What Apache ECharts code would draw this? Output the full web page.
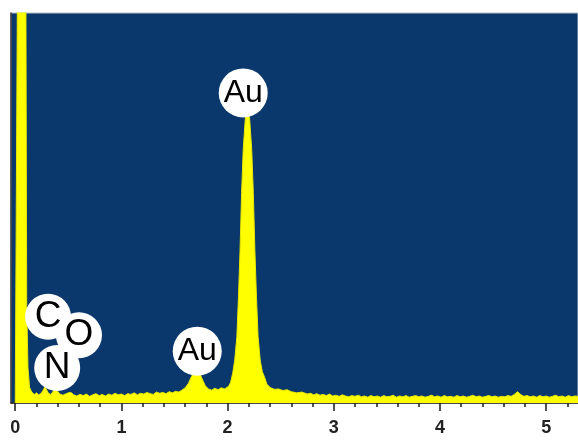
<!DOCTYPE html>
<html>
<head>
<meta charset="utf-8">
<script src="https://cdn.jsdelivr.net/npm/echarts@6/dist/echarts.min.js"></script>
<style>
  html, body { margin: 0; padding: 0; background: #ffffff; }
  #chart { width: 578px; height: 441px; }
</style>
</head>
<body>
<div id="chart"></div>
<script>
// ---- Data (energy keV, relative counts, % of full scale) ----
const zeroPeak = [
  [0.00, 0], [0.015, 0], [0.025, 130], [0.035, 400], [0.066, 600], [0.09, 400],
  [0.098, 130], [0.108, 25], [0.12, 9], [0.135, 4]
];
const lowEnergy = [
  [0.155, 2.8], [0.18, 2.2], [0.20, 2.6], [0.22, 2.1], [0.245, 2.5], [0.265, 3.4],
  [0.28, 4.2], [0.295, 3.8], [0.31, 2.6], [0.33, 2.2], [0.35, 2.7], [0.37, 3.6],
  [0.385, 3.9], [0.40, 3.0], [0.42, 2.3], [0.45, 2.0], [0.48, 2.4], [0.51, 2.7],
  [0.53, 2.6], [0.55, 2.1], [0.58, 1.8], [0.61, 2.2], [0.64, 1.9], [0.67, 2.3],
  [0.70, 1.7], [0.73, 2.1], [0.76, 2.4], [0.79, 1.9], [0.82, 2.2], [0.85, 1.8],
  [0.88, 2.3], [0.91, 2.0], [0.94, 2.5], [0.97, 2.1], [1.00, 2.3], [1.03, 1.9],
  [1.06, 2.4], [1.09, 2.2], [1.12, 2.6], [1.15, 2.1], [1.18, 2.5], [1.21, 2.3],
  [1.24, 2.7], [1.27, 2.4], [1.30, 2.2], [1.33, 2.8], [1.36, 2.5], [1.39, 2.7],
  [1.42, 2.4], [1.45, 2.9], [1.48, 2.6], [1.51, 3.0], [1.54, 2.8], [1.57, 3.3]
];
const auPeaks = [
  [1.60, 3.9], [1.63, 5.0], [1.66, 6.8], [1.69, 8.2], [1.71, 8.6], [1.73, 8.0],
  [1.76, 6.2], [1.79, 4.4], [1.82, 3.6], [1.85, 3.3], [1.88, 3.8], [1.91, 3.4],
  [1.94, 3.9], [1.97, 3.6], [2.007, 4.2], [2.027, 5.2], [2.047, 7.5], [2.067, 11],
  [2.087, 17], [2.102, 27], [2.117, 39], [2.132, 54], [2.147, 65], [2.167, 73],
  [2.187, 75], [2.207, 73], [2.227, 65], [2.242, 54], [2.257, 39], [2.272, 27],
  [2.287, 17], [2.307, 11], [2.327, 8.0], [2.35, 6.5], [2.37, 4.8], [2.40, 4.0],
  [2.44, 3.5], [2.48, 3.6], [2.52, 3.2], [2.56, 3.4], [2.60, 2.9], [2.65, 2.6],
  [2.70, 2.8], [2.75, 2.3]
];
const highEnergy = [
  [2.78, 2.5], [2.81, 2.1], [2.84, 2.4], [2.87, 2.0], [2.90, 2.2], [2.93, 1.9],
  [2.96, 2.3], [2.99, 1.8], [3.02, 2.0], [3.05, 1.7], [3.08, 2.1], [3.11, 1.8],
  [3.14, 1.6], [3.17, 1.9], [3.20, 1.7], [3.23, 2.0], [3.26, 1.6], [3.29, 1.8],
  [3.32, 1.5], [3.35, 1.9], [3.38, 1.6], [3.41, 1.8], [3.44, 1.5], [3.47, 1.9],
  [3.50, 1.6], [3.53, 1.7], [3.56, 2.0], [3.59, 1.5], [3.62, 1.8], [3.65, 1.6],
  [3.68, 1.9], [3.71, 1.5], [3.74, 1.7], [3.77, 1.9], [3.80, 1.6], [3.83, 1.8],
  [3.86, 1.5], [3.89, 1.7], [3.92, 2.0], [3.95, 1.6], [3.98, 1.8], [4.01, 1.5],
  [4.04, 1.9], [4.07, 1.6], [4.10, 1.7], [4.13, 1.5], [4.16, 1.9], [4.19, 1.6],
  [4.22, 1.8], [4.25, 1.5], [4.28, 1.7], [4.31, 2.0], [4.34, 1.6], [4.37, 1.8],
  [4.40, 1.5], [4.43, 1.7], [4.46, 1.9], [4.49, 1.6], [4.52, 1.8], [4.55, 1.5],
  [4.58, 1.7], [4.61, 1.6], [4.64, 1.9], [4.67, 1.7], [4.70, 2.2], [4.73, 2.9],
  [4.76, 2.2], [4.79, 1.7], [4.82, 1.9], [4.85, 1.6], [4.88, 1.8], [4.91, 1.5],
  [4.94, 1.9], [4.97, 1.6], [5.00, 1.8], [5.03, 1.5], [5.06, 1.7], [5.09, 2.0],
  [5.12, 1.6], [5.15, 1.8], [5.18, 1.5], [5.21, 1.9], [5.24, 1.6], [5.27, 1.8],
  [5.30, 1.7]
];

// Element annotations (label, energy keV, height in % of full scale)
const elementNames = ['C', 'O', 'N', 'Au', 'Au'];
const elementEnergy = [0.309, 0.60, 0.395, 1.714, 2.147];
const elementHeight = [22.1, 17.4, 9.0, 13.3, 79.5];

// Axis tick labels (keV)
const majorTicks = [0, 1, 2, 3, 4, 5];

// ---- Build ----
const spectrum = zeroPeak.concat(lowEnergy, auPeaks, highEnergy);
const minorTicks = [];
for (let i = 1; i <= 26; i++) { if (i % 5 !== 0) minorTicks.push(+(i * 0.2).toFixed(1)); }

const labelData = elementNames.map((n, i) => ({
  value: [elementEnergy[i], elementHeight[i]],
  name: n,
  symbolSize: n.length > 1 ? 49 : 46,
  label: { fontSize: n.length > 1 ? 32 : 37 }
}));

const chart = echarts.init(document.getElementById('chart'), null, { renderer: 'canvas' });
const xRange = { min: -0.04, max: 5.3 };
chart.setOption({
  animation: false,
  backgroundColor: '#ffffff',
  grid: {
    left: 11, right: 0, top: 13, bottom: 38,
    show: true, backgroundColor: '#0a386c',
    borderColor: '#b8bec6', borderWidth: 1
  },
  xAxis: [
    {
      type: 'value', min: xRange.min, max: xRange.max, position: 'bottom',
      axisLine: { show: true, onZero: false, lineStyle: { color: '#1a1a1a', width: 1.5 } },
      axisTick: { show: true, customValues: majorTicks, length: 8, lineStyle: { color: '#1a1a1a', width: 1.5 } },
      axisLabel: {
        show: true, customValues: majorTicks, margin: 16,
        color: '#222', fontSize: 18, fontWeight: 'bold', fontFamily: 'Liberation Sans, Arial, sans-serif'
      },
      splitLine: { show: false }
    },
    {
      type: 'value', min: xRange.min, max: xRange.max, position: 'bottom',
      axisLine: { show: false },
      axisTick: { show: true, customValues: minorTicks, length: 4, lineStyle: { color: '#1a1a1a', width: 1.5 } },
      axisLabel: { show: false },
      splitLine: { show: false }
    }
  ],
  yAxis: {
    type: 'value', min: 0, max: 100,
    axisLine: { show: true, onZero: false, lineStyle: { color: '#333', width: 1.5 } },
    axisTick: { show: false }, axisLabel: { show: false }, splitLine: { show: false }
  },
  series: [
    {
      type: 'line', xAxisIndex: 0, data: spectrum, showSymbol: false, symbol: 'none',
      clip: true,
      lineStyle: { color: '#e6e600', width: 1 },
      areaStyle: { color: '#ffff00', opacity: 1 },
      z: 2
    },
    {
      type: 'scatter', xAxisIndex: 0, data: labelData, clip: false,
      symbol: 'circle',
      itemStyle: { color: '#ffffff', opacity: 1 },
      label: {
        show: true, position: 'inside', formatter: '{b}', color: '#000',
        fontFamily: 'Liberation Sans, Arial, sans-serif'
      },
      z: 5
    }
  ]
});
</script>
</body>
</html>
